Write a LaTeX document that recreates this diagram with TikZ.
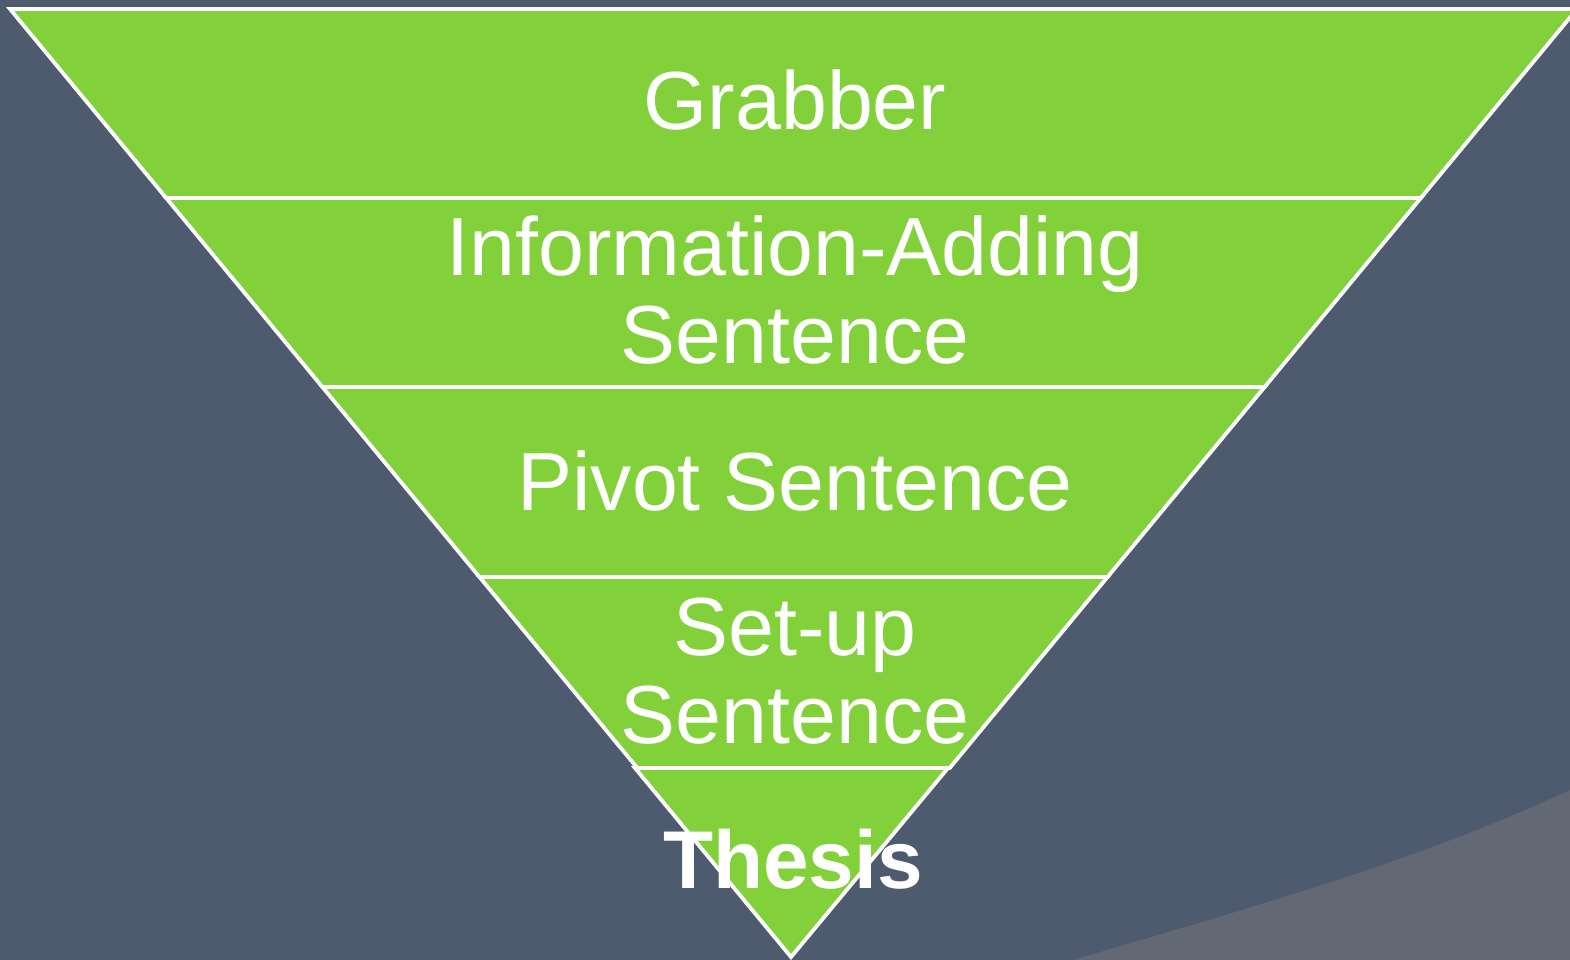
\documentclass[tikz,border=0pt]{standalone}
\usepackage{fontspec}
\setmainfont{Liberation Sans}
\definecolor{bgslate}{HTML}{4E5B6F}
\definecolor{bglight}{HTML}{636875}
\definecolor{funnelgreen}{HTML}{82D13B}
\tikzset{
  band/.style={fill=funnelgreen, draw=white, line width=3.8pt, line join=miter},
  label/.style={text=white, align=center, font=\fontsize{82.5}{88}\selectfont, inner sep=0pt},
  boldlabel/.style={text=white, align=center, font=\fontsize{82}{88}\selectfont\bfseries, inner sep=0pt}
}
\begin{document}
\begin{tikzpicture}[x=1pt,y=-1pt]
\useasboundingbox (0,0) rectangle (1570,960);
\fill[bgslate] (0,0) rectangle (1570,960);
\fill[bglight] (1073,960) .. controls (1260,905) and (1420,860) .. (1570,790) -- (1570,960) -- cycle;
% bands
\path[band] (10,9) -- (1577,9) -- (1420.8,198) -- (166.2,198) -- cycle;
\path[band] (166.2,198) -- (1420.8,198) -- (1264.6,387) -- (322.4,387) -- cycle;
\path[band] (322.4,387) -- (1264.6,387) -- (1107.5,577) -- (479.5,577) -- cycle;
\path[band] (479.5,577) -- (1107.5,577) -- (949.7,768) -- (637.3,768) -- cycle;
\path[band] (635,768) -- (948,768) -- (791,957) -- cycle;
% labels
\node[label, anchor=base] (grabber) at (795,130) {Grabber};
\node[label, anchor=base] (info1) at (795,275) {Information-Adding};
\node[label, anchor=base] (info2) at (795,363) {Sentence};
\node[label, anchor=base] (pivot) at (795,510) {Pivot Sentence};
\node[label, anchor=base] (setup1) at (795,655) {Set-up};
\node[label, anchor=base] (setup2) at (795,743) {Sentence};
\node[boldlabel, anchor=base] (thesis) at (793,888) {Thesis};
\end{tikzpicture}
\end{document}
